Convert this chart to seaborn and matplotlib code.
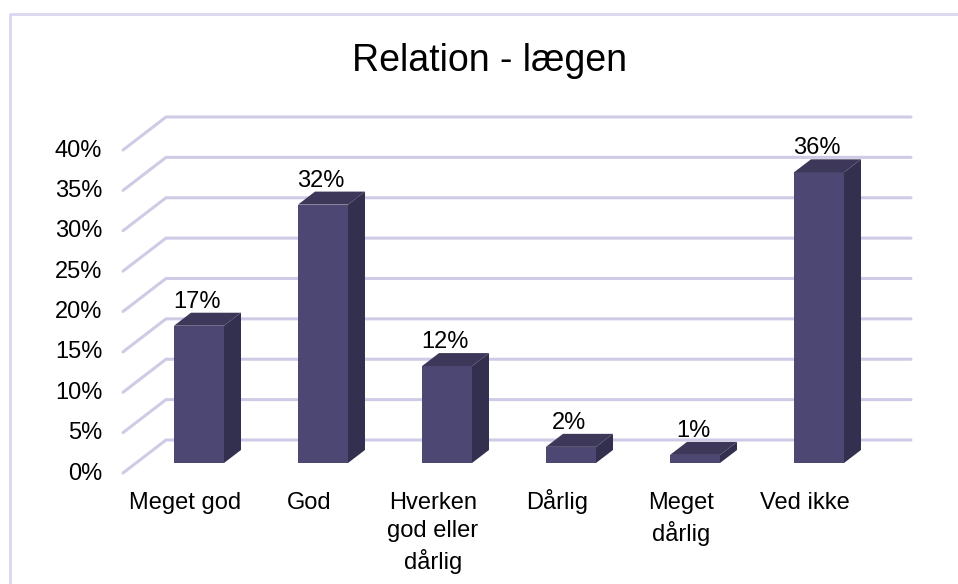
import pandas as pd
import matplotlib.pyplot as plt
import seaborn as sns
from matplotlib.lines import Line2D
from matplotlib.transforms import ScaledTranslation

sns.set_style("white")
plt.rcParams['font.family'] = ['Liberation Sans', 'DejaVu Sans']
plt.rcParams['text.color'] = 'black'
plt.rcParams['xtick.labelcolor'] = 'black'
plt.rcParams['ytick.labelcolor'] = 'black'

# Data
categories = ["Meget god", "God", "Hverken\ngod eller\ndårlig", "Dårlig", "Meget\ndårlig", "Ved ikke"]
values = [17, 32, 12, 2, 1, 36]
grid_values = [0, 5, 10, 15, 20, 25, 30, 35, 40]

df = pd.DataFrame({'category': categories, 'value': values})

# Colors
front_color = '#4C4873'
side_color = '#332F4F'
top_color = '#3D3859'
grid_color = '#CFCBE6'

W, H = 958, 584
fig = plt.figure(figsize=(W / 100, H / 100), dpi=100)

# Axes box in pixels: left 123, right 911, top 117, bottom 473
ax = fig.add_axes([123 / W, 1 - 473 / H, (911 - 123) / W, (473 - 117) / H])

px_x = 124.0      # pixels per category
px_y = 8.07       # pixels per percent
bar_width = 50 / px_x
depth_x = 17 / px_x
depth_y = 13 / px_y

# Floor corners of the 3D box, in data units
wall_x0 = -76 / px_x
wall_x1 = -33 / px_x
wall_right = 712 / px_x
front_off = -10 / px_y
back_off = 23 / px_y

# Back wall gridlines and left wall diagonals
for g in grid_values:
    ax.plot([wall_x0, wall_x1, wall_right],
            [g + front_off, g + back_off, g + back_off],
            color=grid_color, lw=2.2, zorder=1, clip_on=False,
            solid_joinstyle='miter')

# Front faces
sns.barplot(data=df, x='category', y='value', color=front_color, saturation=1,
            width=bar_width, ax=ax, zorder=3, linewidth=0)

# Side and top faces
for i, v in enumerate(values):
    x0 = i - bar_width / 2
    x1 = i + bar_width / 2
    ax.fill([x1, x1 + depth_x, x1 + depth_x, x1],
            [0, depth_y, v + depth_y, v],
            color=side_color, lw=0, zorder=3)
    ax.fill([x0, x0 + depth_x, x1 + depth_x, x1],
            [v, v + depth_y, v + depth_y, v],
            color=top_color, lw=0, zorder=3)
    ax.annotate(f"{v}%", (i, v + depth_y), xytext=(-1.5, 0),
                textcoords='offset points', ha='center', va='bottom',
                fontsize=17, color='black', zorder=4)

ax.set_xlim(wall_x0, wall_right)
ax.set_ylim(front_off, 40 + back_off)

# Tick labels
ax.set_yticks([g + front_off for g in grid_values],
              [f"{g}%" for g in grid_values], fontsize=17)
ax.set_xticks(range(len(categories)))
ax.set_xticklabels(categories, fontsize=17, linespacing=1.36, ha='center')
ax.tick_params(axis='y', length=0, pad=15)
ax.tick_params(axis='x', length=0, pad=13.5)
for label in ax.get_yticklabels():
    label.set_transform(label.get_transform() + ScaledTranslation(0, 2 / 100, fig.dpi_scale_trans))
for label in ax.get_xticklabels():
    # the capital with ring pushes "Dårlig" down when top aligned
    lift = 3 / 100 if label.get_text() == "Dårlig" else 0
    label.set_transform(label.get_transform() + ScaledTranslation(-14 / 100, lift, fig.dpi_scale_trans))

ax.set_xlabel("")
ax.set_ylabel("")
sns.despine(ax=ax, left=True, bottom=True)

# Title
fig.text(489 / W, 1 - 61 / H, "Relation - lægen", fontsize=27, ha='center', va='center', color='black')

# Chart frame (left and top edges only are in view)
frame_color = '#DAD7F0'
fig.add_artist(Line2D([10 / W, 10 / W, 1], [0, 1 - 14 / H, 1 - 14 / H], color=frame_color, lw=2))

plt.savefig("out.png", dpi=100)
